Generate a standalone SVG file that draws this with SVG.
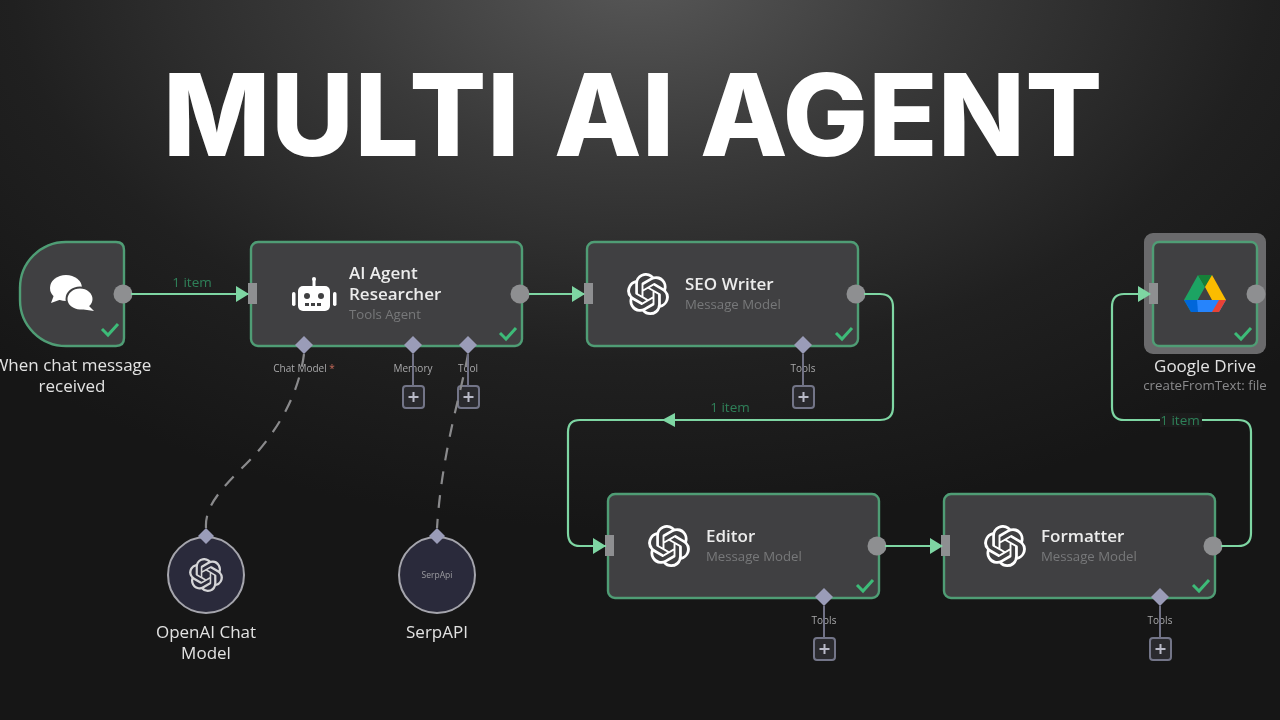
<svg xmlns="http://www.w3.org/2000/svg" width="1280" height="720" viewBox="0 0 1280 720">
<style>
text{font-family:"Open Sans","Liberation Sans",sans-serif}
.card{fill:#414142;stroke:#4f9d75;stroke-width:2.4}
.wire{fill:none;stroke:#7ed6a3;stroke-width:2.2}
.dash{fill:none;stroke:#8a8a8c;stroke-width:2.2;stroke-dasharray:13 11}
.stub{stroke:#6f7185;stroke-width:2}
.dot{fill:#8e8f91}
.in{fill:#8e8f91}
.dia{fill:#9a9cb8}
.plus{fill:#2a2a2e;stroke:#737588;stroke-width:2}
.plusm{stroke:#b9bac8;stroke-width:2}
.t{fill:#ececec;font-size:17px;font-weight:600}
.s{fill:#77787a;font-size:13.2px}
.c{fill:#e2e2e2;font-size:17px;font-weight:500;text-anchor:middle}
.m{fill:#a9a9ab;font-size:10px;text-anchor:middle}
.i{fill:#2f8059;font-size:13.5px;text-anchor:middle}
.chk{fill:none;stroke:#3dbb78;stroke-width:3}
.ring{fill:#2c2c3a;stroke:#a5a5ad;stroke-width:2}
</style>
<defs>
<radialGradient id="bg" gradientUnits="userSpaceOnUse" cx="0" cy="0" r="1" gradientTransform="translate(640 -30) scale(900 560)">
<stop offset="0" stop-color="#585858"/><stop offset=".35" stop-color="#393939"/><stop offset=".7" stop-color="#202020"/><stop offset="1" stop-color="#161616"/>
</radialGradient>
<filter id="soft" x="-2%" y="-2%" width="104%" height="104%"><feGaussianBlur stdDeviation="0.6"/></filter>
<marker id="arr" markerUnits="userSpaceOnUse" markerWidth="14" markerHeight="16" refX="12" refY="8" orient="auto"><path d="M0,0L13,8L0,16Z" fill="#7ed6a3"/></marker>
<symbol id="ai" viewBox="0 0 24 24"><path fill="#fff" d="M22.2819 9.8211a5.9847 5.9847 0 0 0-.5157-4.9108 6.0462 6.0462 0 0 0-6.5098-2.9A6.0651 6.0651 0 0 0 4.9807 4.1818a5.9847 5.9847 0 0 0-3.9977 2.9 6.0462 6.0462 0 0 0 .7427 7.0966 5.98 5.98 0 0 0 .511 4.9107 6.051 6.051 0 0 0 6.5146 2.9001A5.9847 5.9847 0 0 0 13.2599 24a6.0557 6.0557 0 0 0 5.7718-4.2058 5.9894 5.9894 0 0 0 3.9977-2.9001 6.0557 6.0557 0 0 0-.7475-7.0729zm-9.022 12.6081a4.4755 4.4755 0 0 1-2.8764-1.0408l.1419-.0804 4.7783-2.7582a.7948.7948 0 0 0 .3927-.6813v-6.7369l2.02 1.1686a.071.071 0 0 1 .038.052v5.5826a4.504 4.504 0 0 1-4.4945 4.4944zm-9.6607-4.1254a4.4708 4.4708 0 0 1-.5346-3.0137l.142.0852 4.783 2.7582a.7712.7712 0 0 0 .7806 0l5.8428-3.3685v2.3324a.0804.0804 0 0 1-.0332.0615L9.74 19.9502a4.4992 4.4992 0 0 1-6.1408-1.6464zM2.3408 7.8956a4.485 4.485 0 0 1 2.3655-1.9728V11.6a.7664.7664 0 0 0 .3879.6765l5.8144 3.3543-2.0201 1.1685a.0757.0757 0 0 1-.071 0l-4.8303-2.7865A4.504 4.504 0 0 1 2.3408 7.872zm16.5963 3.8558L13.1038 8.364 15.1192 7.2a.0757.0757 0 0 1 .071 0l4.8303 2.7913a4.4944 4.4944 0 0 1-.6765 8.1042v-5.6772a.79.79 0 0 0-.407-.667zm2.0107-3.0231l-.142-.0852-4.7735-2.7818a.7759.7759 0 0 0-.7854 0L9.409 9.2297V6.8974a.0662.0662 0 0 1 .0284-.0615l4.8303-2.7866a4.4992 4.4992 0 0 1 6.6802 4.66zM8.3065 12.863l-2.02-1.1638a.0804.0804 0 0 1-.038-.0567V6.0742a4.4992 4.4992 0 0 1 7.3757-3.4537l-.142.0805L8.704 5.459a.7948.7948 0 0 0-.3927.6813zm1.0976-2.3654l2.602-1.4998 2.6069 1.4998v2.9994l-2.5974 1.4997-2.6067-1.4997Z"/></symbol>
</defs>
<rect width="1280" height="720" fill="#161616"/>
<rect width="1280" height="720" fill="url(#bg)"/>
<g filter="url(#soft)">
<g id="trigger">
<path class="card" d="M20,288A46,46 0 0 1 66,242H116Q124,242 124,250V338Q124,346 116,346H66A46,46 0 0 1 20,300Z"/>
<g fill="#fff"><ellipse cx="66" cy="288" rx="16" ry="13"/><path d="M54,295L51,303L62,299Z"/>
<ellipse cx="80" cy="299" rx="13.500" ry="11.500" stroke="#414142" stroke-width="2"/><path d="M88,305L94,311L80,309Z"/></g>
<path class="chk" d="M102,329L108,335L118,324"/>
<circle class="dot" cx="123" cy="294" r="9.500"/>
<text class="c" x="72" y="371">When chat message</text>
<text class="c" x="72" y="392">received</text>
</g>
<g id="researcher">
<rect class="card" x="251" y="242" width="271" height="104" rx="7"/>
<rect class="in" x="248" y="283" width="9" height="21"/>
<g fill="#fff">
<rect x="298" y="286" width="32" height="25" rx="5"/><rect x="292" y="292" width="3.500" height="14" rx="1.700"/><rect x="333" y="292" width="3.500" height="14" rx="1.700"/><rect x="312.500" y="279" width="3" height="8"/>
<circle cx="314" cy="279" r="2"/></g>
<circle cx="307" cy="296" r="3" fill="#414142"/><circle cx="321" cy="296" r="3" fill="#414142"/>
<path d="M305,304.500H323" stroke="#414142" stroke-width="3" stroke-dasharray="4 2"/>
<text class="t" x="349" y="279">AI Agent</text><text class="t" x="349" y="300">Researcher</text><text class="s" x="349" y="319">Tools Agent</text>
<path class="chk" d="M500,333L506,339L516,328"/>
<circle class="dot" cx="520" cy="294" r="9.500"/>
<path class="dia" d="M304,336L313,345L304,354L295,345Z"/><path class="dia" d="M413,336L422,345L413,354L404,345Z"/><path class="dia" d="M468,336L477,345L468,354L459,345Z"/>
<text class="m" x="304" y="372">Chat Model <tspan fill="#c56a5a">*</tspan></text><text class="m" x="413" y="372">Memory</text><text class="m" x="468" y="372">Tool</text>
<rect class="plus" x="403" y="386" width="21" height="22" rx="3"/><path class="plusm" d="M413.500,392V402M408.500,397H418.500"/>
<rect class="plus" x="458" y="386" width="21" height="22" rx="3"/><path class="plusm" d="M468.500,392V402M463.500,397H473.500"/>
</g>
<g id="seo-writer">
<rect class="card" x="587" y="242" width="271" height="104" rx="7"/>
<rect class="in" x="584" y="283" width="9" height="21"/>
<use href="#ai" x="627" y="273" width="42" height="42"/>
<text class="t" x="685" y="290">SEO Writer</text><text class="s" x="685" y="309">Message Model</text>
<path class="chk" d="M836,333L842,339L852,328"/>
<circle class="dot" cx="856" cy="294" r="9.500"/>
<path class="dia" d="M803,336L812,345L803,354L794,345Z"/>
<text class="m" x="803" y="372">Tools</text>
<rect class="plus" x="793" y="386" width="21" height="22" rx="3"/><path class="plusm" d="M803.500,392V402M798.500,397H808.500"/>
</g>
<g id="editor">
<rect class="card" x="608" y="494" width="271" height="104" rx="7"/>
<rect class="in" x="605" y="535" width="9" height="21"/>
<use href="#ai" x="648" y="525" width="42" height="42"/>
<text class="t" x="706" y="542">Editor</text><text class="s" x="706" y="561">Message Model</text>
<path class="chk" d="M857,585L863,591L873,580"/>
<circle class="dot" cx="877" cy="546" r="9.500"/>
<path class="dia" d="M824,588L833,597L824,606L815,597Z"/>
<text class="m" x="824" y="624">Tools</text>
<rect class="plus" x="814" y="638" width="21" height="22" rx="3"/><path class="plusm" d="M824.500,644V654M819.500,649H829.500"/>
</g>
<g id="formatter">
<rect class="card" x="944" y="494" width="271" height="104" rx="7"/>
<rect class="in" x="941" y="535" width="9" height="21"/>
<use href="#ai" x="984" y="525" width="42" height="42"/>
<text class="t" x="1041" y="542">Formatter</text><text class="s" x="1041" y="561">Message Model</text>
<path class="chk" d="M1193,585L1199,591L1209,580"/>
<circle class="dot" cx="1213" cy="546" r="9.500"/>
<path class="dia" d="M1160,588L1169,597L1160,606L1151,597Z"/>
<text class="m" x="1160" y="624">Tools</text>
<rect class="plus" x="1150" y="638" width="21" height="22" rx="3"/><path class="plusm" d="M1160.500,644V654M1155.500,649H1165.500"/>
</g>
<g id="google-drive">
<rect x="1144" y="233" width="122" height="121" rx="9" fill="#6b6b6c"/>
<rect class="card" x="1153" y="242" width="104" height="104" rx="6"/>
<rect class="in" x="1149" y="283" width="9" height="21"/>
<path d="M1198,275L1184,300L1191,312L1205,287Z" fill="#1fa463"/>
<path d="M1198,275H1212L1205,287Z" fill="#188038"/>
<path d="M1212,275L1226,300H1212L1205,287Z" fill="#fbbc04"/>
<path d="M1197,300H1226L1219,312H1191Z" fill="#2684fc"/>
<path d="M1184,300L1191,312H1198L1197,300Z" fill="#0066da"/>
<path d="M1219,300H1226L1219,312H1212Z" fill="#ea4335"/>
<path class="chk" d="M1235,333L1241,339L1251,328"/>
<circle class="dot" cx="1256" cy="294" r="9.500"/>
<text class="c" x="1205" y="372">Google Drive</text>
<text x="1205" y="390" text-anchor="middle" font-size="13.300" fill="#8a8a8c">createFromText: file</text>
</g>
<g id="openai-chat-model">
<circle class="ring" cx="206" cy="575" r="38"/>
<use href="#ai" x="189" y="558" width="34" height="34" opacity=".8"/>
<path class="dia" d="M206,528L214,536L206,544L198,536Z"/>
<text class="c" x="206" y="638">OpenAI Chat</text><text class="c" x="206" y="659">Model</text>
</g>
<g id="serpapi">
<circle class="ring" cx="437" cy="575" r="38"/>
<text x="437" y="578" text-anchor="middle" font-size="8.500" fill="#9a9aa2">SerpApi</text>
<path class="dia" d="M437,528L445,536L437,544L429,536Z"/>
<text class="c" x="437" y="638">SerpAPI</text>
</g>
<g id="connectors">
<path class="wire" marker-end="url(#arr)" d="M131,294H248"/>
<path class="wire" marker-end="url(#arr)" d="M529,294H584"/>
<path class="wire" d="M864,294H880Q893,294 893,307V407Q893,420 880,420H580Q568,420 568,432V533Q568,546 580,546H606"/>
<path d="M675,413L662,420L675,427Z" fill="#7ed6a3"/>
<path d="M593,538L606,546L593,554Z" fill="#7ed6a3"/>
<path class="wire" marker-end="url(#arr)" d="M885,546H942"/>
<path class="wire" marker-end="url(#arr)" d="M1221,546H1238Q1251,546 1251,533V432Q1251,420 1238,420H1124Q1112,420 1112,407V307Q1112,294 1124,294H1150"/>
<path class="dash" d="M304,354C298,400 272,440 240,470C215,495 205,510 206,528"/>
<path class="dash" d="M468,354C462,390 442,450 437,528"/>
<path class="stub" d="M413,354V386M803,354V386M824,606V638M1160,606V638M468,354V386"/>
<text class="i" x="192" y="287">1 item</text>
<text class="i" x="730" y="412">1 item</text>
<rect x="1160" y="413" width="42" height="14" fill="#1b1b1b"/>
<text class="i" x="1180" y="425">1 item</text>
</g>
</g>
<text id="title" y="156" fill="#fff" style="font-family:Inter,'Liberation Sans',sans-serif;font-weight:800;font-size:114px"><tspan x="163" letter-spacing="0.500">MULTI</tspan><tspan x="554">AI</tspan><tspan x="700">AGENT</tspan></text>
</svg>
